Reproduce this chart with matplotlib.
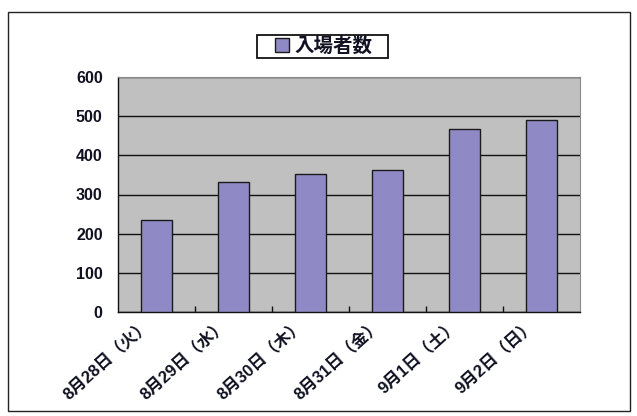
import matplotlib
matplotlib.use('Agg')
import matplotlib.pyplot as plt
from matplotlib.patches import Rectangle
from matplotlib.transforms import ScaledTranslation
import numpy as np

plt.rcParams['font.family'] = ['Liberation Sans', 'Noto Sans CJK JP', 'DejaVu Sans']

# ------------------------------------------------------------------ data
categories = ['8月28日（火）', '8月29日（水）', '8月30日（木）',
              '8月31日（金）', '9月1日（土）', '9月2日（日）']
visitors = [236, 333, 352, 363, 468, 489]
series_name = '入場者数'
yticks = [0, 100, 200, 300, 400, 500, 600]

# ------------------------------------------------------------------ figure
W, H = 637, 416
fig = plt.figure(figsize=(W / 100, H / 100), dpi=100)
fig.patch.set_facecolor('white')

fig.patches.append(Rectangle((8 / W, 1 - 411 / H), 622 / W, 399 / H,
                             transform=fig.transFigure, fill=False,
                             edgecolor='#222222', linewidth=1.0))
fig.patches.append(Rectangle((257 / W, 1 - 58 / H), 131 / W, 23 / H,
                             transform=fig.transFigure, fill=False,
                             edgecolor='#111111', linewidth=1.3))

ax = fig.add_axes([118 / W, 1 - 312 / H, 462 / W, 235 / H])
ax.set_facecolor('#c0c0c0')

x = np.arange(len(categories))
bars = ax.bar(x, visitors, width=0.41, color='#8f8ac5', edgecolor='#1a1a1a',
              linewidth=1.0, label=series_name, zorder=3)

ax.set_xlim(-0.5, len(categories) - 0.5)
ax.set_ylim(0, 600)
ax.set_yticks(yticks)
ax.yaxis.grid(True, color='#111111', linewidth=1.0, zorder=1)
ax.set_axisbelow(True)

for side in ('top', 'right'):
    ax.spines[side].set_color('#8a8a8a')
for side in ('left', 'bottom'):
    ax.spines[side].set_color('#111111')
    ax.spines[side].set_linewidth(1.0)

ax.set_xticks(x)
ax.set_xticklabels(categories, rotation=42, ha='right', va='center',
                   rotation_mode='anchor', fontsize=12, fontweight='bold',
                   color='#111122')
ax.tick_params(axis='x', which='major', length=0, pad=8)
shift = ScaledTranslation(-8 / 100, 0, fig.dpi_scale_trans)
for lab in ax.get_xticklabels():
    lab.set_transform(lab.get_transform() + shift)
ax.set_xticks(np.arange(0.5, len(categories) - 1), minor=True)
ax.tick_params(axis='x', which='minor', direction='in', length=4,
               width=1.0, color='#111111')
ax.tick_params(axis='y', length=0, pad=11)
for lab in ax.get_yticklabels():
    lab.set_fontsize(11.5)
    lab.set_fontweight('bold')
    lab.set_color('#111122')

leg = fig.legend(handles=[bars], labels=[series_name],
                 loc='center', bbox_to_anchor=(324 / W, 1 - 46.5 / H),
                 frameon=False, handlelength=0.7, handleheight=0.7,
                 handletextpad=0.3, borderpad=0, borderaxespad=0,
                 prop={'family': ['Noto Sans CJK JP'], 'weight': 'bold', 'size': 14})
for t in leg.get_texts():
    t.set_color('#111122')

fig.savefig('out.png', dpi=100)
